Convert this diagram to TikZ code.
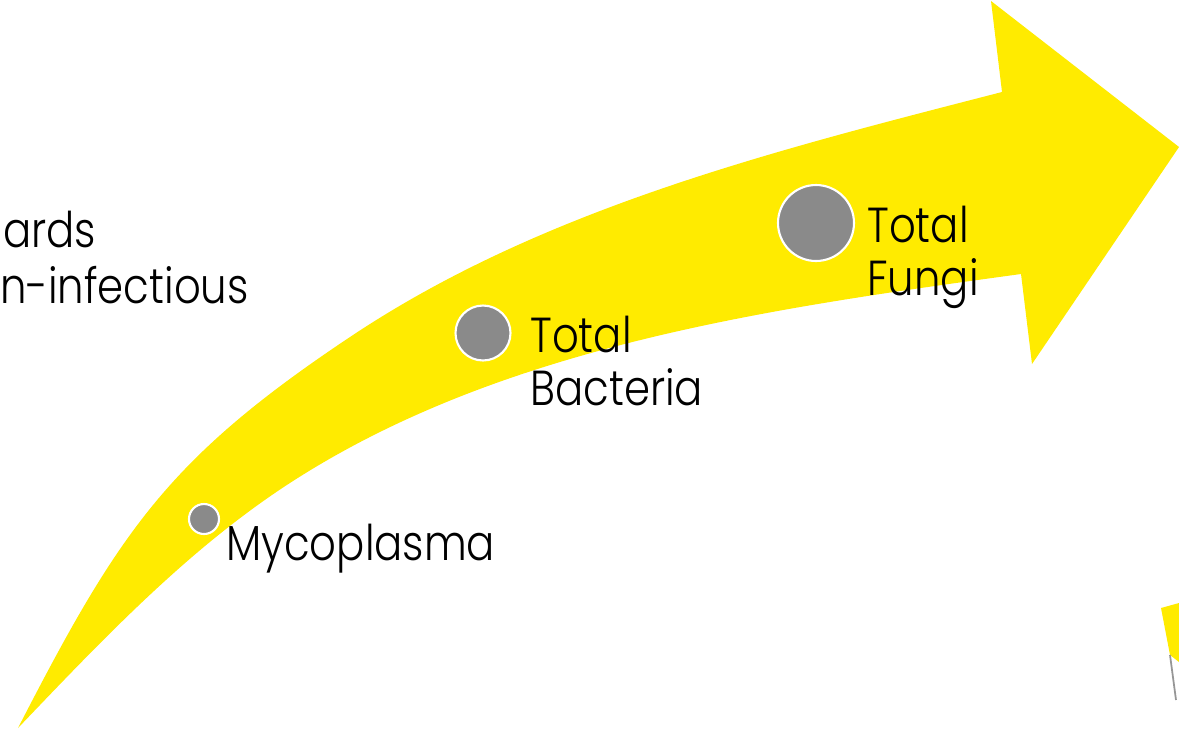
\documentclass[tikz,border=0pt]{standalone}
\usepackage{fontspec}
\IfFontExistsTF{Poppins Light}{\setmainfont{Poppins Light}[FakeStretch=0.85]}{\setmainfont{Poppins}[FakeStretch=0.85]}
\definecolor{arrowyellow}{RGB}{255,235,0}
\definecolor{dotgray}{RGB}{138,138,138}
\definecolor{edgegray}{RGB}{150,150,150}
\begin{document}
\begin{tikzpicture}[x=0.02cm,y=-0.02cm,
  dot/.style={circle,fill=dotgray,draw=white,line width=1.2pt,inner sep=0pt},
  lbl/.style={font=\fontsize{28}{30}\selectfont,inner sep=0pt,text=black}]
\useasboundingbox (0,0) rectangle (1179,735);
% big curved arrow
\fill[arrowyellow]
  (18,728) .. controls (119,532) and (167,459) .. (350,337)
           .. controls (543,208) and (777,150) .. (1002,92)
  -- (991,1) -- (1179,147) -- (1032,364) -- (1021,274)
  .. controls (773,308) and (505,345) .. (293,481)
  .. controls (190,547) and (103,639) .. (18,728)
  -- cycle;
% fragment in lower right corner
\fill[arrowyellow] (1161,608) -- (1179,603) -- (1179,662) -- (1170,655) -- cycle;
\draw[edgegray,line width=1pt] (1170,655) -- (1176,700);
% dots
\node[dot,minimum size=0.60cm] (myco) at (204,519) {};
\node[dot,minimum size=1.10cm] (bact) at (483,333) {};
\node[dot,minimum size=1.52cm] (fung) at (816,223) {};
% labels
\node[lbl,anchor=base west] (mycolbl) at (226,560) {Mycoplasma};
\node[lbl,anchor=base west] (bactlblA) at (530,352) {Total};
\node[lbl,anchor=base west] (bactlblB) at (530,405) {Bacteria};
\node[lbl,anchor=base west] (funglblA) at (867,242) {Total};
\node[lbl,anchor=base west] (funglblB) at (867,295) {Fungi};
\node[lbl,anchor=base west] (leftA) at (3,247) {ards};
\node[lbl,anchor=base east] (leftB) at (249,303) {n-infectious};
\end{tikzpicture}
\end{document}
